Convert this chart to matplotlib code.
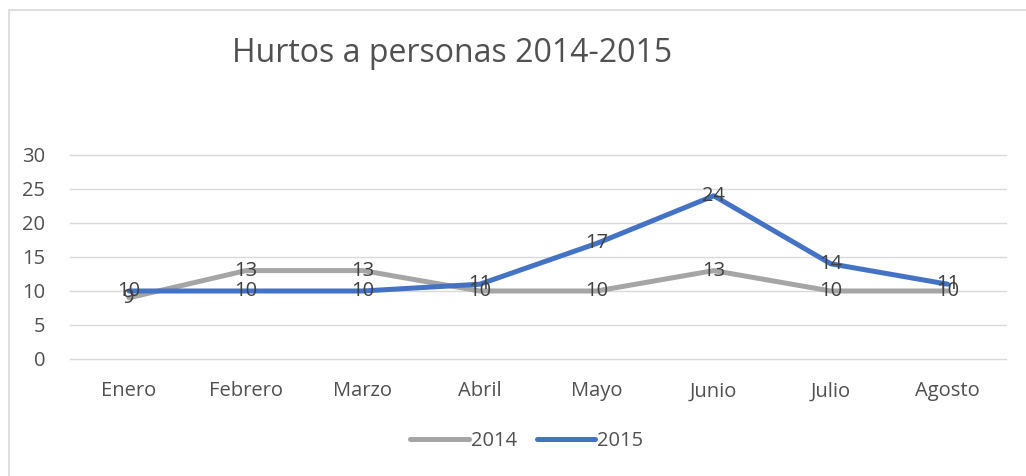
import matplotlib.pyplot as plt
from matplotlib.patches import Rectangle

# Datos mensuales de hurtos a personas
meses = ['Enero', 'Febrero', 'Marzo', 'Abril', 'Mayo', 'Junio', 'Julio', 'Agosto']
hurtos_2014 = [9, 13, 13, 10, 10, 13, 10, 10]
hurtos_2015 = [10, 10, 10, 11, 17, 24, 14, 11]

plt.rcParams['font.family'] = ['Open Sans', 'DejaVu Sans']

fig = plt.figure(figsize=(10.26, 4.76), dpi=100)
ax = fig.add_axes([0.0687, 0.2458, 0.912, 0.4286])

# Marco del gráfico
fig.patches.append(Rectangle((9 / 1026, -0.1), 1.2, 1 - 10 / 476 + 0.1,
                             transform=fig.transFigure, fill=False,
                             edgecolor='#d9d9d9', linewidth=1.2))

x = range(len(meses))
ax.plot(x, hurtos_2014, color='#a5a5a5', linewidth=3.6, label='2014',
        solid_capstyle='round', zorder=3)
ax.plot(x, hurtos_2015, color='#4472c4', linewidth=3.6, label='2015',
        solid_capstyle='round', zorder=4)

# Etiquetas de datos centradas sobre cada punto
for xi, v in zip(x, hurtos_2014):
    ax.text(xi, v, str(v), ha='center', va='center', fontsize=14.5,
            color='#404040', zorder=5)
for xi, v in zip(x, hurtos_2015):
    ax.text(xi, v, str(v), ha='center', va='center', fontsize=14.5,
            color='#404040', zorder=5)

ax.set_xlim(-0.5, len(meses) - 0.5)
ax.set_ylim(0, 30)
ax.set_yticks(range(0, 31, 5))
ax.set_xticks(list(x))
ax.set_xticklabels(meses)
ax.tick_params(axis='both', length=0, labelsize=14.5, labelcolor='#505050')
ax.tick_params(axis='x', pad=16)
ax.tick_params(axis='y', pad=18)
ax.grid(axis='y', color='#d9d9d9', linewidth=1)
for gl in ax.get_ygridlines():
    gl.set_clip_on(False)
ax.set_axisbelow(True)
for s in ax.spines.values():
    s.set_visible(False)

fig.text(452 / 1026, 1 - 53 / 476, 'Hurtos a personas 2014-2015',
         ha='center', va='center', fontsize=23, color='#505050')

fig.legend(loc='center', bbox_to_anchor=(527 / 1026, 1 - 441 / 476), ncol=2,
           frameon=False, fontsize=14.5, labelcolor='#505050', handlelength=2.9,
           handletextpad=0.1, columnspacing=1.0)

fig.savefig('out.png', dpi=100)
